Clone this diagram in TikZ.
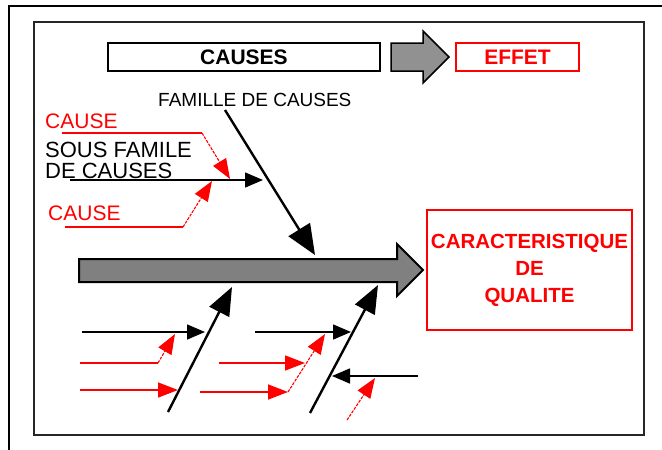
\documentclass[tikz,border=0pt]{standalone}
\usepackage{fontspec}
\setmainfont{Liberation Sans}
\usetikzlibrary{arrows.meta}
\definecolor{arrowgray}{RGB}{128,128,128}
\definecolor{lightarrow}{RGB}{145,145,145}
\begin{document}
\begin{tikzpicture}[x=1pt,y=-1pt,
  plain/.style={inner sep=0pt,anchor=west,font=\fontsize{20}{20}\selectfont},
  redtxt/.style={plain,text=red,font=\fontsize{21}{21}\selectfont},
  titlebox/.style={draw,line width=1.8pt,minimum height=28pt,inner sep=0pt,font=\bfseries\fontsize{21}{21}\selectfont},
  bkline/.style={draw=black,line width=2.4pt},
  bkthin/.style={draw=black,line width=1.6pt},
  bkhead/.style={bkthin,-{Triangle[length=18pt,width=15pt]}},
  bkbig/.style={bkline,-{Triangle[length=28pt,width=22pt]}},
  rdline/.style={draw=red,line width=1.6pt},
  rdthin/.style={draw=red,line width=1.1pt,dash pattern=on 3pt off 1.2pt},
  rdhead/.style={-{Triangle[length=20pt,width=15pt]}},
]
\useasboundingbox (0,0) rectangle (662,450);
\fill[white] (0,0) rectangle (662,450);
% outer frame
\draw[line width=2.5pt] (9,450) -- (9,6) -- (662,6);
% inner frame
\draw[line width=2pt, black!85] (34,22) rectangle (644,435);

% title row
\node[titlebox, minimum width=272pt] (causes) at (244,57) {CAUSES};
\node[titlebox, draw=red, text=red, line width=1.5pt, minimum width=123pt] (effet) at (517.5,57) {EFFET};
\draw[line width=1.5pt, fill=lightarrow] (391,43) -- (423,43) -- (423,31) -- (449,57) -- (423,83) -- (423,71) -- (391,71) -- cycle;

% main spine
\draw[line width=2pt, fill=arrowgray] (79,259) -- (397,259) -- (397,244) -- (423,270) -- (397,296) -- (397,282) -- (79,282) -- cycle;

% effect box
\node[draw=red, line width=1.5pt, minimum width=205pt, minimum height=120pt, inner sep=0pt, align=center, text=red, font=\bfseries\fontsize{20.5}{27}\selectfont] (qual) at (529.5,270) {CARACTERISTIQUE\\DE\\QUALITE};

% labels
\node[plain, font=\fontsize{19}{19}\selectfont] (fam) at (158,100) {FAMILLE DE CAUSES};
\node[redtxt] (c1) at (45,121.5) {CAUSE};
\node[plain, font=\fontsize{22}{21}\selectfont, anchor=north west, align=left] (sf) at (45,142) {SOUS FAMILE\\DE CAUSES};
\node[redtxt] (c2) at (48,213.5) {CAUSE};

% coordinates
\coordinate (famS) at (225,110);
\coordinate (famT) at (315,255);
\coordinate (sfS) at (70,180);
\coordinate (sfT) at (263,180);
\coordinate (c1a) at (62,133);
\coordinate (c1b) at (202,133);
\coordinate (c1t) at (230,179);
\coordinate (c2a) at (65,227);
\coordinate (c2b) at (183,227);
\coordinate (c2t) at (212,181);

\coordinate (LdS) at (168,412);
\coordinate (LdT) at (232,287);
\coordinate (LhS) at (82,332);
\coordinate (LhT) at (205,332);
\coordinate (Lr1a) at (80,363);
\coordinate (Lr1b) at (158,363);
\coordinate (Lr1t) at (175,334);
\coordinate (Lr2a) at (80,390);
\coordinate (Lr2t) at (178,390);

\coordinate (RdS) at (310,413);
\coordinate (RdT) at (378,285);
\coordinate (RhS) at (255,332);
\coordinate (RhT) at (351,332);
\coordinate (Rr1a) at (219,363);
\coordinate (Rr1t) at (305,363);
\coordinate (Rr2a) at (200,392);
\coordinate (Rr2b) at (288,392);
\coordinate (Rr2t) at (325,334);
\coordinate (RbS) at (418,376);
\coordinate (RbT) at (332,376);
\coordinate (RcS) at (347,420);
\coordinate (RcT) at (375,378);

% upper family
\draw[bkline, -{Triangle[length=30pt,width=25pt]}] (famS) -- (famT);
\draw[bkhead] (sfS) -- (sfT);
\draw[rdline] (c1a) -- (c1b);
\draw[rdthin, rdhead] (c1b) -- (c1t);
\draw[rdline] (c2a) -- (c2b);
\draw[rdthin, rdhead] (c2b) -- (c2t);

% lower left family
\draw[bkbig] (LdS) -- (LdT);
\draw[bkhead] (LhS) -- (LhT);
\draw[rdline] (Lr1a) -- (Lr1b);
\draw[rdthin, rdhead] (Lr1b) -- (Lr1t);
\draw[rdline, rdhead] (Lr2a) -- (Lr2t);

% lower right family
\draw[bkbig] (RdS) -- (RdT);
\draw[bkhead] (RhS) -- (RhT);
\draw[rdline, rdhead] (Rr1a) -- (Rr1t);
\draw[rdline, rdhead] (Rr2a) -- (Rr2b);
\draw[rdthin, rdhead] (Rr2b) -- (Rr2t);
\draw[bkhead] (RbS) -- (RbT);
\draw[rdthin, rdhead] (RcS) -- (RcT);
\end{tikzpicture}
\end{document}
